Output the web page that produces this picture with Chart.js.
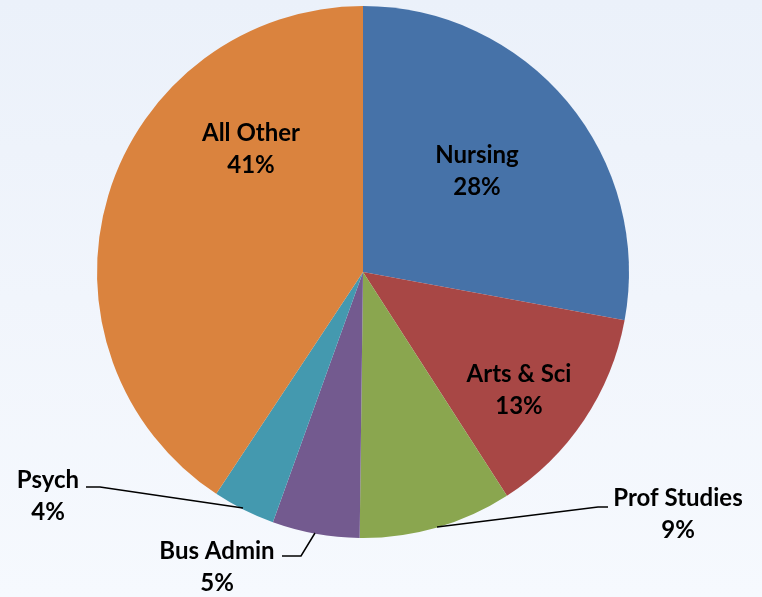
<!DOCTYPE html>
<html>
<head>
<meta charset="utf-8">
<script src="https://cdn.jsdelivr.net/npm/chart.js@4"></script>
<style>
  html, body { margin: 0; padding: 0; }
  body {
    width: 762px; height: 597px; overflow: hidden;
    background: linear-gradient(180deg, #ebf1fa 0%, #f1f5fc 50%, #f6f9fe 100%);
  }
  #pie { display: block; }
</style>
</head>
<body>
<canvas id="pie" width="762" height="597"></canvas>
<script>
// enrolment share by school, clockwise from 12 o'clock
const schools = ['Nursing', 'Arts & Sci', 'Prof Studies', 'Bus Admin', 'Psych', 'All Other'];
const shares = [27.9, 13.0, 9.3, 5.3, 3.8, 40.7];
const sliceColors = ['#4672a8', '#a84745', '#8aa64f', '#735a8f', '#4499af', '#da833e'];

// label placement, in px from the pie centre (text block centre)
const labelSpots = [
  { dx: 114, dy: -101 },
  { dx: 156, dy: 118 },
  { dx: 315, dy: 242, line: [[74, 255], [235, 235], [245, 235]] },
  { dx: -146, dy: 295, line: [[-48, 261], [-62, 284], [-81, 284]] },
  { dx: -315, dy: 224, line: [[-120, 236], [-263, 215], [-277, 215]] },
  { dx: -112, dy: -123 }
];

const labelPlugin = {
  id: 'sliceLabels',
  afterDatasetsDraw: function(chart) {
    const ctx = chart.ctx;
    const arc = chart.getDatasetMeta(0).data[0];
    const cx = arc.x, cy = arc.y;
    const total = shares.reduce((a, b) => a + b, 0);
    ctx.save();
    ctx.font = 'bold 24px Lato';
    ctx.fillStyle = '#000';
    ctx.textAlign = 'center';
    ctx.textBaseline = 'middle';
    labelSpots.forEach((s, i) => {
      if (s.line) {
        ctx.beginPath();
        ctx.strokeStyle = '#000';
        ctx.lineWidth = 1.5;
        s.line.forEach((p, k) => {
          if (k === 0) ctx.moveTo(cx + p[0], cy + p[1]);
          else ctx.lineTo(cx + p[0], cy + p[1]);
        });
        ctx.stroke();
      }
      const pct = Math.round(shares[i] / total * 100) + '%';
      ctx.fillText(schools[i], cx + s.dx, cy + s.dy - 16);
      ctx.fillText(pct, cx + s.dx, cy + s.dy + 16);
    });
    ctx.restore();
  }
};

new Chart(document.getElementById('pie'), {
  type: 'pie',
  data: {
    labels: schools,
    datasets: [{
      data: shares,
      backgroundColor: sliceColors,
      borderWidth: 0
    }]
  },
  options: {
    responsive: false,
    animation: false,
    layout: { padding: { top: 6, bottom: 59, left: 0, right: 36 } },
    plugins: {
      legend: { display: false },
      tooltip: { enabled: false }
    }
  },
  plugins: [labelPlugin]
});
</script>
</body>
</html>
